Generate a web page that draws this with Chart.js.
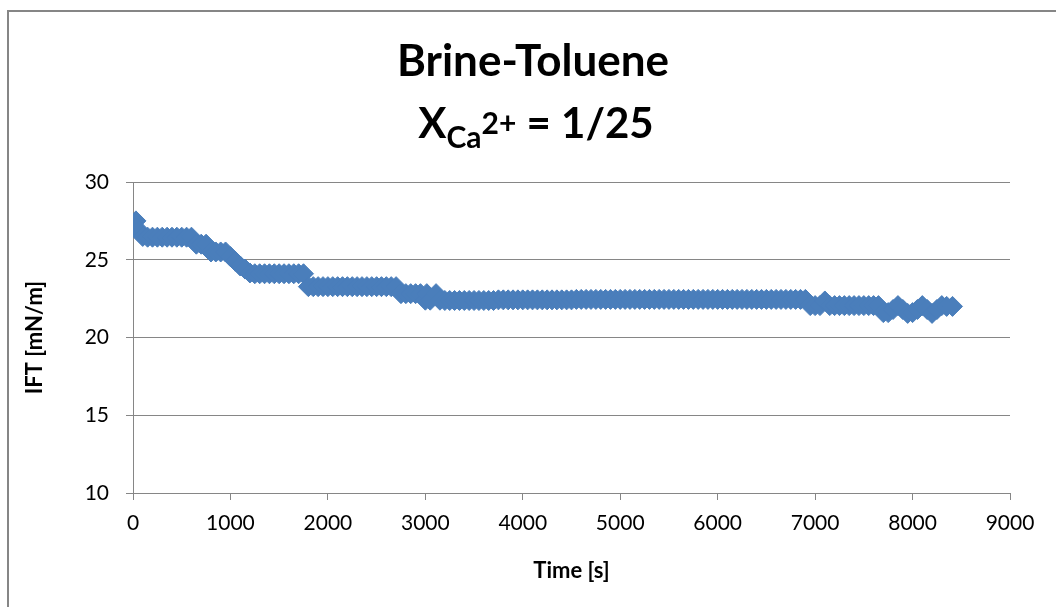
<!DOCTYPE html>
<html>
<head>
<meta charset="utf-8">
<script src="https://cdn.jsdelivr.net/npm/chart.js@4"></script>
<style>
  html, body { margin: 0; padding: 0; background: #fff; overflow: hidden; }
  #wrap { width: 1056px; height: 607px; position: relative; }
</style>
</head>
<body>
<div id="wrap"><canvas id="iftChart"></canvas></div>
<script>
// data: time [s] and IFT [mN/m]
const timeS = [
  0, 30, 60, 100, 150, 200, 250, 300, 350, 400, 450, 500, 550, 600, 650, 700, 750, 800, 850, 900, 950,
  1000, 1050, 1100, 1150, 1200, 1250, 1300, 1350, 1400, 1450, 1500, 1550, 1600, 1650, 1700, 1750, 1800, 1850, 1900, 1950,
  2000, 2050, 2100, 2150, 2200, 2250, 2300, 2350, 2400, 2450, 2500, 2550, 2600, 2650, 2700, 2750, 2800, 2850, 2900, 2950,
  3000, 3015, 3050, 3110, 3150, 3200, 3250, 3300, 3350, 3400, 3450, 3500, 3550, 3600, 3650, 3700, 3750, 3800, 3850, 3900, 3950,
  4000, 4050, 4100, 4150, 4200, 4250, 4300, 4350, 4400, 4450, 4500, 4550, 4600, 4650, 4700, 4750, 4800, 4850, 4900, 4950,
  5000, 5050, 5100, 5150, 5200, 5250, 5300, 5350, 5400, 5450, 5500, 5550, 5600, 5650, 5700, 5750, 5800, 5850, 5900, 5950,
  6000, 6050, 6100, 6150, 6200, 6250, 6300, 6350, 6400, 6450, 6500, 6550, 6600, 6650, 6700, 6750, 6800, 6850, 6900, 6950,
  7000, 7050, 7100, 7150, 7200, 7250, 7300, 7350, 7400, 7450, 7500, 7550, 7600, 7650, 7700, 7750, 7800, 7850, 7900, 7950,
  8000, 8050, 8100, 8150, 8200, 8250, 8300, 8350, 8410
];
const iftMNm = [
  27.25, 27.5, 26.9, 26.5, 26.45, 26.45, 26.45, 26.45, 26.45, 26.45, 26.45, 26.45, 26.45, 26.45, 26.0, 26.0, 26.0, 25.5, 25.5, 25.5, 25.5,
  25.2, 24.9, 24.6, 24.4, 24.15, 24.1, 24.1, 24.1, 24.1, 24.1, 24.1, 24.1, 24.1, 24.1, 24.1, 24.1, 23.27, 23.27, 23.27, 23.27,
  23.27, 23.27, 23.27, 23.27, 23.27, 23.27, 23.27, 23.27, 23.27, 23.27, 23.27, 23.27, 23.27, 23.27, 23.27, 22.82, 22.82, 22.82, 22.82, 22.82,
  22.4, 22.82, 22.4, 22.82, 22.4, 22.38, 22.38, 22.38, 22.38, 22.38, 22.38, 22.38, 22.38, 22.38, 22.38, 22.38, 22.42, 22.42, 22.42, 22.42, 22.42,
  22.42, 22.42, 22.42, 22.42, 22.42, 22.42, 22.42, 22.42, 22.42, 22.42, 22.42, 22.45, 22.45, 22.45, 22.45, 22.45, 22.45, 22.45, 22.45, 22.45,
  22.45, 22.45, 22.45, 22.45, 22.45, 22.45, 22.45, 22.45, 22.45, 22.45, 22.45, 22.45, 22.45, 22.45, 22.45, 22.45, 22.45, 22.45, 22.45, 22.45,
  22.45, 22.45, 22.45, 22.45, 22.45, 22.45, 22.45, 22.45, 22.45, 22.45, 22.45, 22.45, 22.45, 22.45, 22.45, 22.45, 22.45, 22.45, 22.45, 22.05,
  22.05, 22.05, 22.35, 22.05, 22.05, 22.05, 22.05, 22.05, 22.05, 22.05, 22.05, 22.05, 22.05, 22.05, 21.6, 21.6, 21.8, 22.05, 21.8, 21.55,
  21.6, 21.8, 22.05, 21.8, 21.55, 21.8, 22.05, 22.0, 22.0
];

const titleLine1 = 'Brine-Toluene';
const titleLine2 = [
  { text: 'X', size: 42, dy: 0 },
  { text: 'Ca', size: 30, dy: 10 },
  { text: '2+', size: 30, dy: -4 },
  { text: ' = 1/25', size: 42, dy: 0 }
];

const axisGray = '#868686';
const markerBlue = '#4A7EBB';

// white page and the chart's outer frame
const framePlugin = {
  id: 'frame',
  beforeDraw(chart) {
    const ctx = chart.ctx;
    ctx.save();
    ctx.fillStyle = '#fff';
    ctx.fillRect(0, 0, chart.width, chart.height);
    ctx.strokeStyle = axisGray;
    ctx.lineWidth = 2;
    ctx.beginPath();
    ctx.moveTo(8, chart.height);
    ctx.lineTo(8, 11);
    ctx.lineTo(chart.width, 11);
    ctx.stroke();
    ctx.restore();
  }
};

// two-line title with subscript
const titlePlugin = {
  id: 'excelTitle',
  afterDraw(chart) {
    const ctx = chart.ctx;
    ctx.save();
    ctx.fillStyle = '#000';
    ctx.textBaseline = 'alphabetic';
    ctx.textAlign = 'center';
    ctx.font = 'bold 44px Lato';
    ctx.fillText(titleLine1, 533, 76);

    ctx.textAlign = 'left';
    let total = 0;
    titleLine2.forEach(p => {
      ctx.font = `bold ${p.size}px Lato`;
      total += ctx.measureText(p.text).width;
    });
    let x = 536 - total / 2;
    titleLine2.forEach(p => {
      ctx.font = `bold ${p.size}px Lato`;
      ctx.fillText(p.text, x, 138 + p.dy);
      x += ctx.measureText(p.text).width;
    });
    ctx.restore();
  }
};

const ctx = document.getElementById('iftChart').getContext('2d');
const iftChart = new Chart(ctx, {
  type: 'scatter',
  data: {
    datasets: [{
      label: 'IFT',
      data: timeS.map((t, i) => ({ x: t, y: iftMNm[i] })),
      pointStyle: 'rectRot',
      pointRadius: 10,
      pointHoverRadius: 10,
      backgroundColor: markerBlue,
      borderColor: markerBlue,
      borderWidth: 1,
      showLine: false
    }]
  },
  options: {
    responsive: true,
    maintainAspectRatio: false,
    animation: false,
    events: [],
    layout: { padding: { top: 182, right: 46, bottom: 0, left: 0 } },
    plugins: {
      legend: { display: false },
      tooltip: { enabled: false },
      title: { display: false }
    },
    scales: {
      x: {
        type: 'linear',
        min: 0,
        max: 9000,
        afterFit: s => { s.height = 114; },
        ticks: {
          stepSize: 1000,
          color: '#000',
          padding: 11,
          font: { family: 'Lato', size: 21 },
          maxRotation: 0,
          callback: v => String(v)
        },
        grid: {
          drawOnChartArea: false,
          drawTicks: true,
          tickLength: 7,
          color: axisGray
        },
        border: { color: axisGray, width: 1 },
        title: {
          display: true,
          text: 'Time [s]',
          color: '#000',
          font: { family: 'Lato', size: 22, weight: 'bold' },
          padding: { top: 0, bottom: 23 }
        }
      },
      y: {
        type: 'linear',
        min: 10,
        max: 30,
        afterFit: s => { s.width = 133; },
        ticks: {
          stepSize: 5,
          color: '#000',
          padding: 17,
          font: { family: 'Lato', size: 21 }
        },
        grid: {
          drawTicks: true,
          tickLength: 7,
          color: axisGray
        },
        border: { color: axisGray, width: 1 },
        title: {
          display: true,
          text: 'IFT [mN/m]',
          color: '#000',
          font: { family: 'Lato', size: 22, weight: 'bold' },
          padding: { top: 22, bottom: 0 }
        }
      }
    }
  },
  plugins: [framePlugin, titlePlugin]
});
</script>
</body>
</html>
